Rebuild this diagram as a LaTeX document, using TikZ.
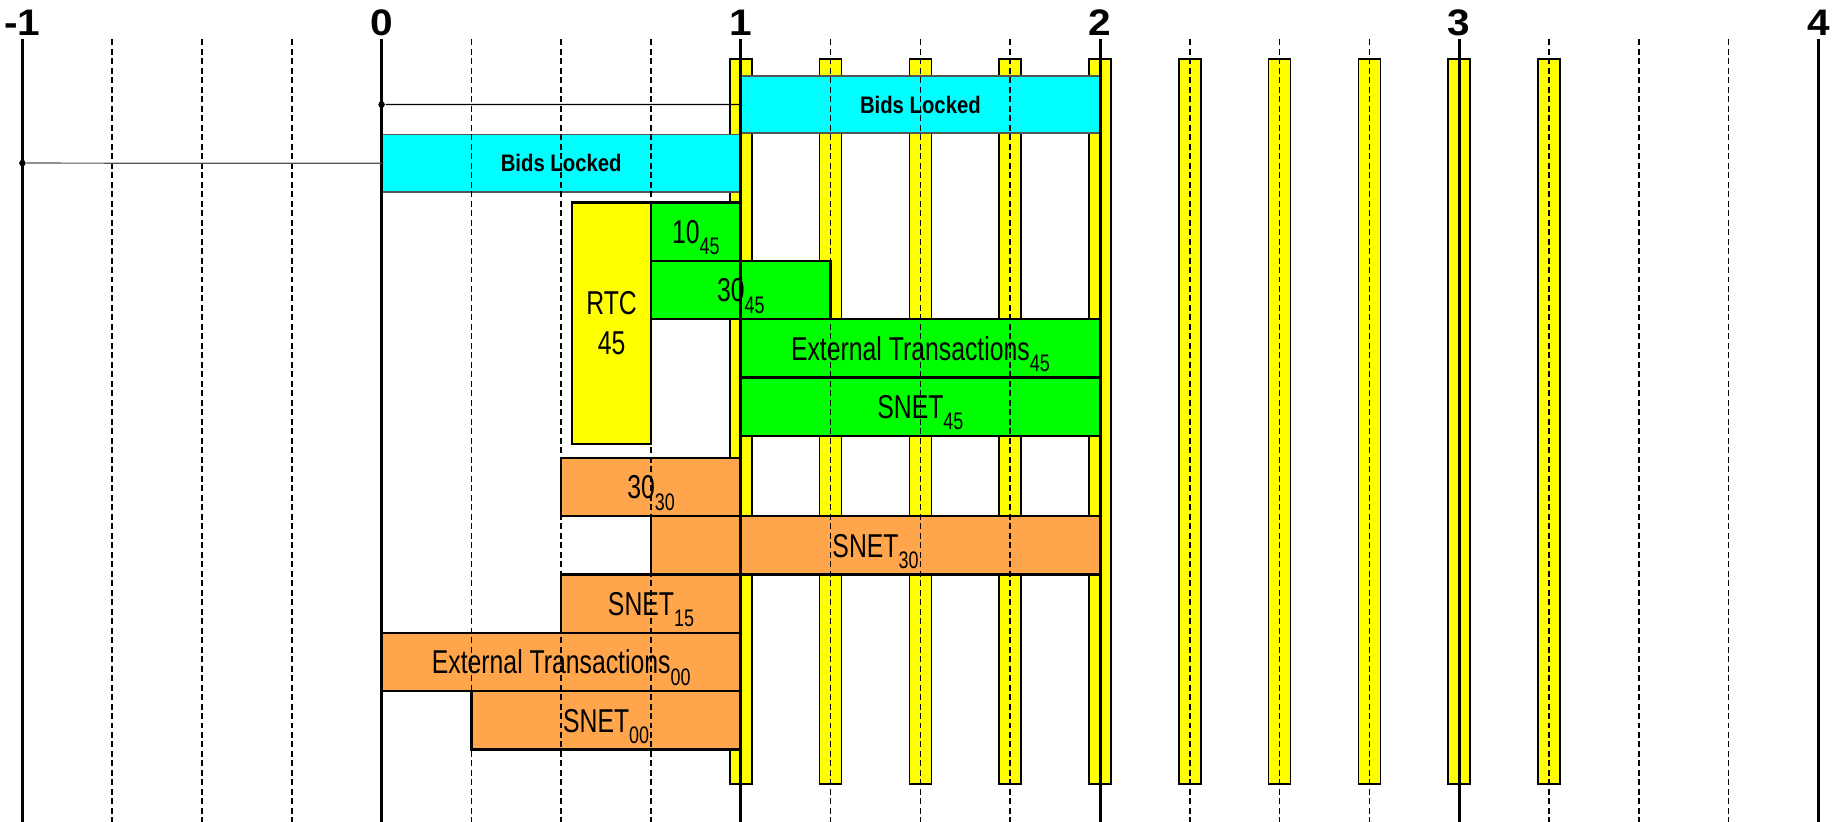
\documentclass[tikz,border=0pt]{standalone}
\usepackage{fontspec}
\setmainfont{Liberation Sans}
\newfontfamily\narrowfont[FakeStretch=0.75]{Liberation Sans}
\newfontfamily\bidsfont[FakeStretch=0.85]{Liberation Sans}
\newfontfamily\tickfont[FakeStretch=1.1]{Liberation Sans}
\usetikzlibrary{positioning}
\definecolor{cyanx}{HTML}{00FFFF}
\definecolor{greenx}{HTML}{00FF00}
\definecolor{yellowx}{HTML}{FFFF00}
\definecolor{orangex}{HTML}{FFA64D}
\definecolor{grayx}{HTML}{555555}
\newcommand{\lowsub}[1]{\raisebox{-3.2pt}{\fontsize{6.8pt}{6.8pt}\selectfont #1}}

\begin{document}
\begin{tikzpicture}[
  x=3.592cm, y=-0.01cm,
  font=\narrowfont\fontsize{9.4pt}{11.4pt}\selectfont,
  tbox/.style={rectangle, draw=black, line width=0.65pt, inner sep=0pt, outer sep=0pt, anchor=north west, minimum height=0.583cm, text height=6.7pt, text depth=0pt},
  bids/.style={tbox, fill=cyanx, draw=grayx, line width=0.45pt, minimum width=3.592cm, minimum height=0.573cm, font=\bidsfont\bfseries\fontsize{6.8pt}{8pt}\selectfont, text height=4.8pt},
  slotbar/.style={draw=black, line width=0.45pt, fill=yellowx},
  unitline/.style={line width=0.85pt},
  quarterline/.style={line width=0.5pt, dash pattern=on 1.7pt off 1pt},
  link/.style={line width=0.35pt},
  dotmark/.style={circle, fill=black, inner sep=0pt, minimum size=0.065cm},
  num/.style={anchor=base, inner sep=0pt, font=\tickfont\bfseries\fontsize{10.5pt}{12pt}\selectfont},
]
\useasboundingbox (-1.06236,0) rectangle (4.04065,822);

% yellow slots behind everything
\foreach \k in {0,...,9}
  \draw[slotbar] ({1+0.25*\k-0.0306},59.3) rectangle ({1+0.25*\k+0.0306},784.3);

% locked bids
\node[bids] (bidsB) at (1,76) {Bids Locked};
\node[bids] (bidsA) at (0,134.7) {Bids Locked};

% the 45 cycle
\node[tbox, fill=greenx, minimum width=0.898cm] (t10) at (0.75,202.7) {10\lowsub{45}};
\node[tbox, fill=yellowx, anchor=north east, minimum width=0.787cm, minimum height=2.413cm, text height=, text depth=, align=center] (rtc) at (t10.north west) {RTC\\45};
\node[tbox, fill=greenx, minimum width=1.796cm] (t30) at (t10.south west) {30\lowsub{45}};
\node[tbox, fill=greenx, minimum width=3.592cm] (ext45) at (t10.south east |- t30.south) {External Transactions\lowsub{45}};
\node[tbox, fill=greenx, minimum width=3.592cm] (snet45) at (ext45.south west) {SNET\lowsub{45}};

% the 30, 15 and 00 cycles
\node[tbox, fill=orangex, minimum width=1.796cm] (c30) at (0.5,458.3) {30\lowsub{30}};
\node[tbox, fill=orangex, minimum width=4.49cm] (snet30) at (t10.south west |- c30.south) {SNET\lowsub{30}};
\node[tbox, fill=orangex, minimum width=1.796cm] (snet15) at (c30.south west |- snet30.south) {SNET\lowsub{15}};
\node[tbox, fill=orangex, minimum width=3.592cm] (ext00) at (bidsA.south west |- snet15.south) {External Transactions\lowsub{00}};
\node[tbox, fill=orangex, minimum width=2.694cm] (snet00) at ([xshift=0.898cm]ext00.south west) {SNET\lowsub{00}};

% time grid on top
\foreach \t in {-1,0,...,3}
  \foreach \q in {0.25,0.5,0.75}
    \draw[quarterline] ({\t+\q},39.3) -- ({\t+\q},822);
\foreach \t in {-1,0,...,4}{
  \draw[unitline] (\t,39.3) -- (\t,822);
  \node[num] (n\t) at (\t,36) {\t};
}

% lock start markers
\node[dotmark] (d0) at (0,104.65) {};
\node[dotmark] (d1) at (-1,163.2) {};
\draw[link] (d0) -- (bidsB.west);
\draw[link, draw=grayx] (d1) -- (bidsA.west);
\end{tikzpicture}
\end{document}
